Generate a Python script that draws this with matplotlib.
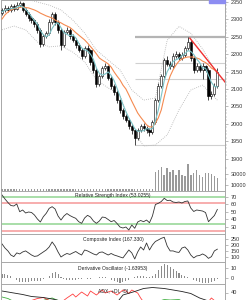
import numpy as np
import matplotlib
matplotlib.use('Agg')
import matplotlib.pyplot as plt
from matplotlib.patches import Rectangle

plt.rcParams['font.family'] = ['Liberation Sans', 'DejaVu Sans']

# daily bars
opens = np.array([2318, 2327, 2333, 2327, 2339, 2330, 2341, 2347, 2327, 2316,
                  2304, 2298, 2287, 2270, 2229, 2252, 2261, 2293, 2316, 2293,
                  2270, 2226, 2264, 2270, 2252, 2241, 2226, 2212, 2195, 2218,
                  2212, 2178, 2155, 2114, 2137, 2160, 2166, 2132, 2109, 2091,
                  2068, 2040, 2022, 2011, 1994, 1982, 1959, 1982, 1994, 1988,
                  1982, 1976, 2005, 2068, 2109, 2137, 2183, 2172, 2166, 2195,
                  2201, 2189, 2198, 2218, 2235, 2189, 2155, 2166, 2155, 2166,
                  2155, 2080, 2086, 2109])
closes = np.array([2327, 2333, 2327, 2339, 2330, 2341, 2347, 2327, 2316, 2304,
                   2298, 2287, 2270, 2229, 2252, 2261, 2293, 2316, 2293, 2270,
                   2226, 2264, 2270, 2252, 2241, 2226, 2212, 2195, 2218, 2212,
                   2178, 2155, 2114, 2137, 2160, 2166, 2132, 2109, 2091, 2068,
                   2040, 2022, 2011, 1994, 1982, 1959, 1982, 1994, 1988, 1982,
                   1976, 2005, 2068, 2109, 2137, 2183, 2172, 2166, 2195, 2201,
                   2189, 2198, 2218, 2235, 2189, 2155, 2166, 2155, 2166, 2155,
                   2080, 2086, 2109, 2149])
highs = np.array([2334, 2340, 2338, 2345, 2344, 2349, 2354, 2350, 2332, 2320,
                  2310, 2302, 2292, 2275, 2258, 2268, 2300, 2322, 2320, 2298,
                  2276, 2270, 2278, 2275, 2258, 2246, 2232, 2218, 2224, 2226,
                  2216, 2184, 2160, 2142, 2166, 2174, 2170, 2136, 2114, 2096,
                  2072, 2046, 2028, 2016, 2000, 1986, 1988, 2000, 2002, 1994,
                  1988, 2012, 2074, 2116, 2144, 2190, 2196, 2180, 2204, 2210,
                  2206, 2206, 2224, 2248, 2240, 2194, 2174, 2172, 2174, 2170,
                  2160, 2094, 2116, 2160])
lows = np.array([2312, 2322, 2320, 2322, 2324, 2327, 2336, 2320, 2309, 2296,
                 2290, 2278, 2262, 2220, 2224, 2246, 2256, 2288, 2285, 2262,
                 2212, 2220, 2258, 2245, 2235, 2218, 2205, 2186, 2190, 2204,
                 2170, 2146, 2105, 2108, 2132, 2154, 2125, 2100, 2084, 2060,
                 2030, 2014, 2004, 1986, 1972, 1940, 1952, 1976, 1980, 1974,
                 1966, 1970, 2000, 2062, 2102, 2132, 2165, 2158, 2160, 2188,
                 2182, 2184, 2192, 2212, 2180, 2146, 2150, 2148, 2128, 2148,
                 2068, 2070, 2080, 2104])
volume = np.array([2500] * 52 +
                  [34000, 37000, 43000, 28000, 41000, 34000, 37000, 28000, 37000, 28000,
                   26000, 48000, 28000, 32000, 37000, 28000, 25000, 32000, 32000, 30000,
                   26000, 23000])

ma_long = [2301, 2313, 2321, 2327, 2330, 2333, 2334, 2336, 2334, 2333,
           2330, 2327, 2323, 2318, 2314, 2310, 2307, 2304, 2298, 2294,
           2290, 2285, 2281, 2277, 2270, 2262, 2255, 2248, 2241, 2232,
           2222, 2212, 2201, 2189, 2183, 2178, 2172, 2163, 2149, 2137,
           2126, 2111, 2100, 2083, 2065, 2048, 2031, 2019, 2008, 1997,
           1991, 1991, 2002, 2017, 2040, 2077, 2111, 2137, 2155, 2169,
           2180, 2186, 2190, 2192, 2192, 2192, 2189, 2186, 2180, 2176,
           2169, 2160, 2155, 2149]
ma_short = [2322, 2326, 2328, 2331, 2332, 2334, 2339, 2336, 2330, 2319,
            2308, 2296, 2287, 2268, 2256, 2250, 2256, 2274, 2287, 2290,
            2276, 2262, 2257, 2253, 2256, 2247, 2232, 2218, 2213, 2209,
            2200, 2185, 2160, 2145, 2140, 2143, 2149, 2139, 2124, 2102,
            2080, 2055, 2035, 2017, 2002, 1986, 1978, 1979, 1980, 1986,
            1985, 1986, 2008, 2040, 2080, 2124, 2150, 2164, 2179, 2184,
            2188, 2196, 2201, 2210, 2208, 2199, 2186, 2176, 2160, 2160,
            2139, 2119, 2107, 2106]

band_idx = [0, 4, 8, 12, 16, 20, 24, 28, 32, 36, 40, 44, 48, 52, 56, 60, 64, 68, 73]
band_upper = [2370, 2364, 2359, 2350, 2341, 2327, 2298, 2261, 2212, 2183,
              2155, 2097, 2068, 2074, 2240, 2280, 2260, 2215, 2140]
band_lower = [2270, 2281, 2270, 2235, 2221, 2224, 2206, 2178, 2126, 2103,
              2083, 1988, 1936, 1939, 1968, 2040, 2097, 2111, 2068]

fib_levels = [2248, 2174, 2130, 1938]
fib_start = 45
trend_x = [63.7, 75.6]
trend_y = [2246, 2120]

rsi = [72.3, 67, 62.3, 58.3, 57.6, 60.3, 50, 52.3, 48.3, 49.6,
       49, 45.6, 40.3, 36.3, 43.3, 47.9, 54.5, 56.7, 53.6, 44.3,
       38.9, 44.3, 47.6, 44.9, 42.9, 41.2, 36.7, 34.5, 41.6, 45.2,
       42.9, 37.6, 34.5, 37.6, 42.9, 42.3, 39.6, 36.7, 38.3, 34.3,
       29.6, 28.3, 29.6, 25.6, 32.3, 27.9, 36.3, 38.3, 36.7, 38.9,
       35.3, 44.3, 59.6, 61.2, 63.6, 67.9, 64.9, 65.3, 62.9, 62.3,
       62.9, 61.6, 63.6, 64.3, 54.9, 50.3, 52.3, 51.6, 50.9, 48.9,
       36.7, 40.9, 44.9, 53.0]
rsi_green = [70, 33]
rsi_red = [61, 24.5]

composite = [212, 177, 152, 117, 103, 135, 126, 143, 152, 135,
             117, 105, 109, 126, 143, 160, 186, 229, 194, 143,
             100, 117, 130, 122, 135, 147, 130, 117, 160, 152,
             139, 126, 117, 139, 143, 130, 117, 130, 117, 109,
             100, 92, 126, 160, 135, 83, 143, 186, 160, 220,
             160, 203, 233, 246, 260, 269, 194, 152, 152, 143,
             139, 177, 186, 160, 117, 92, 109, 113, 126, 113,
             88, 103, 152, 167]

deriv = [4, 3.5, 3, 1.5, -1, -3, -4.5, -5, -5, -4.5,
         -4, -4, -3.5, -4, -2, -0.5, 2, 5, 6, 4,
         1, -1.5, -2.5, -3, -3, -2.5, -2, -1.5, -1, -1.5,
         -1.5, -1, -1, 0.5, 1, 0.5, -1, -2.5, -4, -5,
         -5.5, -5, -4, -3, -1, 0.5, 1.5, 2, 1.5, 1,
         0.5, 1.5, 4, 8, 12, 14, 13, 11, 9, 7,
         5, 3, 1.5, 0.5, -1, -2.5, -3.5, -4.5, -5.5, -6,
         -6, -5, -3.5, -1.6]

adx_idx = [0, 3, 7, 10, 14, 17, 20, 24, 28, 32, 36, 39, 41, 45, 48, 51, 55, 58, 61, 64, 67, 70, 73]
adx = [43, 40, 36, 32, 30, 27, 23, 20, 19, 18, 18, 20, 35, 42, 48, 50, 48, 45, 42, 38, 29, 23, 19]
pdi_idx = [0, 2, 4, 8, 12, 15, 17, 19, 24, 40, 52, 55, 57, 60, 62, 66, 73]
pdi = [31, 28, 22, 18, 20, 26, 29, 24, 18, 12, 20, 26, 25, 26, 20, 18, 20]
mdi_idx = [0, 8, 12, 14, 16, 20, 22, 24, 25, 27, 29, 30, 32, 34, 35, 37, 39, 41, 42, 43, 44, 46, 47, 48, 50, 60, 70, 71, 72, 73]
mdi = [18, 20, 28, 30, 24, 20, 29, 37, 31, 41, 33, 43, 35, 45, 39, 43, 35, 45, 43, 38, 45, 39, 29, 21, 15, 15, 22, 29, 24, 20]

x = np.arange(len(closes))
xlim = (-0.34, 75.6)
fig = plt.figure(figsize=(2.48, 3.0), dpi=100)


def style_y(a):
    a.yaxis.tick_right()
    a.tick_params(axis='y', which='major', labelsize=4, length=2.5, width=0.4,
                  colors='#888888', labelcolor='#333333', pad=1.5)
    a.tick_params(axis='y', which='minor', length=1.2, width=0.3, colors='#888888')


def panel(bottom_px, top_px):
    a = fig.add_axes([1 / 248, 1 - bottom_px / 300, 224 / 248, (bottom_px - top_px) / 300])
    a.set_xlim(*xlim)
    a.set_xticks([])
    style_y(a)
    for s in a.spines.values():
        s.set_color('#a8a8a8')
        s.set_linewidth(0.7)
    return a


# price + volume
ax = panel(191, 0)
vax = ax.twinx()
style_y(ax)
ax.set_ylim(1806.8, 2355.7)
ax.set_yticks(range(1900, 2351, 50))
ax.set_yticks(range(1900, 2360, 10), minor=True)
ax.hlines(fib_levels, fib_start, xlim[1], colors=['#b4b4b4', '#d0d0d0', '#d0d0d0', '#d0d0d0'],
          linewidths=[1.6, 0.8, 0.8, 0.8], zorder=1)
ax.plot(band_idx, band_upper, color='#b0b0b0', lw=0.6, ls=(0, (1, 1.5)), zorder=2)
ax.plot(band_idx, band_lower, color='#b0b0b0', lw=0.6, ls=(0, (1, 1.5)), zorder=2)
ax.vlines(x, lows, highs, color='black', lw=0.5, zorder=3)
up = closes >= opens
ax.bar(x[up], (closes - opens)[up], bottom=opens[up], width=0.7, color='white',
       edgecolor='black', lw=0.4, zorder=4)
ax.bar(x[~up], (opens - closes)[~up], bottom=closes[~up], width=0.7, color='black',
       edgecolor='black', lw=0.4, zorder=4)
ax.plot(x, ma_long, color='#f58a50', lw=0.8, zorder=5)
ax.plot(x, ma_short, color='#7cc4c8', lw=0.8, zorder=5)
ax.plot(trend_x, trend_y, color='#f03030', lw=1.0, zorder=6)

vax.set_xlim(*xlim)
vax.set_ylim(-900, 346000)
vax.bar(x, volume, width=0.5, color='#9a9a9a')
vax.set_yticks([10000, 30000])
vax.set_yticks([20000, 40000], minor=True)
style_y(vax)
for s in vax.spines.values():
    s.set_visible(False)

# RSI
ax2 = panel(234, 191)
ax2.set_ylim(20.3, 77.6)
ax2.set_yticks([30, 40, 50, 60, 70])
for v in rsi_green:
    ax2.axhline(v, color='#9ad89a', lw=1.2)
for v in rsi_red:
    ax2.axhline(v, color='#f6a0a0', lw=1.2)
ax2.plot(x, rsi, color='#333333', lw=0.6)
ax2.text(0.5, 0.9, 'Relative Strength Index (53.0255)', transform=ax2.transAxes,
         ha='center', va='center', fontsize=3.6, color='#222222')

# Composite index
ax3 = panel(262, 234)
ax3.set_ylim(57, 297)
ax3.set_yticks([100, 150, 200, 250])
ax3.plot(x, composite, color='#333333', lw=0.6)
ax3.text(0.5, 0.82, 'Composite Index (167.330)', transform=ax3.transAxes,
         ha='center', va='center', fontsize=3.6, color='#222222')

# Derivative oscillator
ax4 = panel(284, 262)
ax4.set_ylim(-6.8, 16.3)
ax4.set_yticks([0, 10])
ax4.bar(x, deriv, width=0.35, color='#8c8c8c')
ax4.text(0.5, 0.7, 'Derivative Oscillator (-1.63953)', transform=ax4.transAxes,
         ha='center', va='center', fontsize=3.6, color='#222222')

# ADX
ax5 = panel(300, 284)
ax5.set_ylim(25, 57)
ax5.set_yticks([40])
ax5.plot(pdi_idx, pdi, color='#40b040', lw=0.6)
ax5.plot(mdi_idx, mdi, color='#ff4040', lw=0.6)
ax5.plot(adx_idx, adx, color='#222222', lw=0.6)
ax5.text(0.5, 0.58, 'ADX, +DI, -DI', transform=ax5.transAxes,
         ha='center', va='center', fontsize=3.6, color='#222222')

fig.patches.append(Rectangle((209 / 248, 297 / 300), 16 / 248, 3 / 300,
                             transform=fig.transFigure, color='#8d8df2', zorder=10))

fig.savefig('out.png', dpi=100)
